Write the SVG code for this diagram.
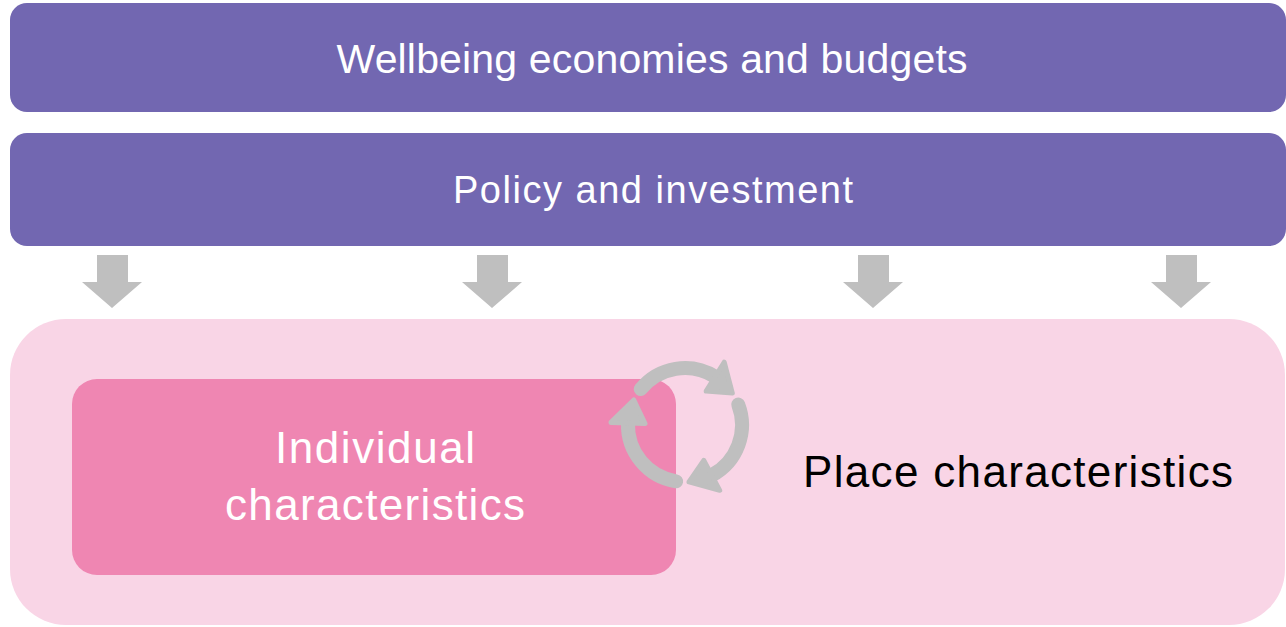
<svg xmlns="http://www.w3.org/2000/svg" width="1286" height="627" viewBox="0 0 1286 627">
  <defs>
    <style>
      .bar { fill: #7267B1; }
      .bartext { fill: #FFFFFF; font-family: "Liberation Sans", Arial, sans-serif; text-anchor: middle; }
      .blockarrow { fill: #BFBFBF; }
      .cyc { fill: none; stroke: #BFBFBF; stroke-width: 14; stroke-linecap: round; }
      .cychead { fill: #BFBFBF; stroke: #BFBFBF; stroke-width: 5; stroke-linejoin: round; }
    </style>
  </defs>
  <rect width="1286" height="627" fill="#FFFFFF"/>

  <g id="wellbeing">
    <rect class="bar" x="10" y="3" width="1276" height="109" rx="17"/>
    <text class="bartext" x="652" y="73" font-size="41" textLength="631" lengthAdjust="spacing">Wellbeing economies and budgets</text>
  </g>

  <g id="policy">
    <rect class="bar" x="10" y="133" width="1276" height="113" rx="17"/>
    <text class="bartext" x="653" y="203" font-size="38" textLength="400" lengthAdjust="spacing">Policy and investment</text>
  </g>

  <g id="connectors">
    <polygon class="blockarrow" points="97,255 128,255 128,282 142,282 112,308 82,282 97,282"/>
    <polygon class="blockarrow" points="477,255 508,255 508,282 522,282 492,308 462,282 477,282"/>
    <polygon class="blockarrow" points="858,255 889,255 889,282 903,282 873,308 843,282 858,282"/>
    <polygon class="blockarrow" points="1166,255 1197,255 1197,282 1211,282 1181,308 1151,282 1166,282"/>
  </g>

  <g id="place">
    <rect x="10" y="319" width="1275" height="306" rx="56" fill="#F9D5E6"/>
    <text x="1018" y="487" font-family="Liberation Sans, Arial, sans-serif" font-size="44" fill="#000000" text-anchor="middle" textLength="430" lengthAdjust="spacing">Place characteristics</text>
  </g>

  <g id="individual">
    <rect x="72" y="379" width="604" height="196" rx="25" fill="#EF86B2"/>
    <text x="375" y="463" font-family="Liberation Sans, Arial, sans-serif" font-size="44" fill="#FFFFFF" text-anchor="middle" textLength="200" lengthAdjust="spacing">Individual</text>
    <text x="375" y="520" font-family="Liberation Sans, Arial, sans-serif" font-size="44" fill="#FFFFFF" text-anchor="middle" textLength="300" lengthAdjust="spacing">characteristics</text>
  </g>

  <g id="cycle">
    <path class="cyc" d="M640.7,389.1 A57,57 0 0 1 715.2,376.7"/>
    <polygon class="cychead" points="706.2,391.1 724.2,362.2 732.3,393.1"/>
    <path class="cyc" d="M738.2,404.6 A57,57 0 0 1 711.8,475.3"/>
    <polygon class="cychead" points="703.8,460.3 719.7,490.3 689.0,481.9"/>
    <path class="cyc" d="M676.1,481.3 A57,57 0 0 1 628.0,423.0"/>
    <polygon class="cychead" points="645.0,423.6 611.0,422.4 633.8,400.0"/>
  </g>
</svg>
